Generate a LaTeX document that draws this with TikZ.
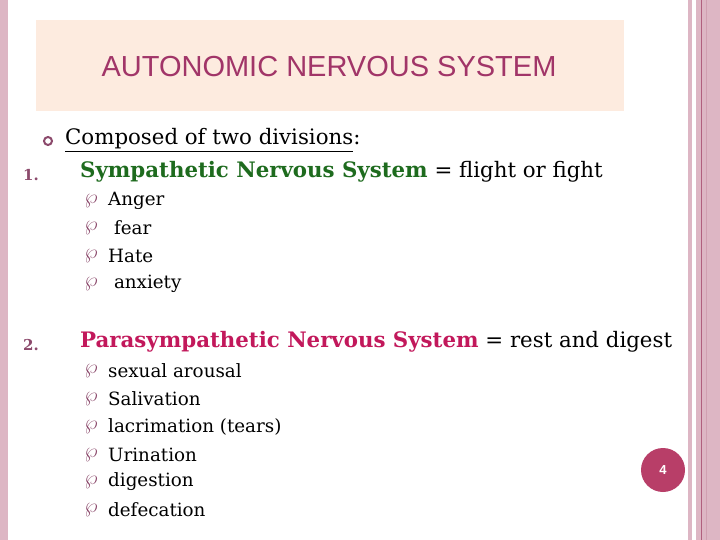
\documentclass[tikz,border=0pt]{standalone}
\usepackage{fontspec}
\setmainfont{DejaVu Serif}
\newfontfamily\titlefont{Liberation Sans}
\begin{document}
\begin{tikzpicture}[x=1pt,y=-1pt,
  txt/.style={anchor=west,font=\fontsize{21.3}{24}\selectfont,inner sep=0pt},
  sub/.style={anchor=west,font=\fontsize{18.3}{21}\selectfont,inner sep=0pt},
  bul/.style={anchor=center,text=bulc,font=\fontsize{20}{22}\selectfont,inner sep=0pt}]
\definecolor{strip}{HTML}{DDB6C4}
\definecolor{stripd}{HTML}{B0607E}
\definecolor{titlebg}{HTML}{FDEBDF}
\definecolor{titlec}{HTML}{A13568}
\definecolor{grn}{HTML}{1E6B1E}
\definecolor{pnk}{HTML}{C2185B}
\definecolor{bulc}{HTML}{8C4A6C}
\definecolor{pagec}{HTML}{B83E68}
\useasboundingbox (0,0) rectangle (720,540);
\fill[white] (0,0) rectangle (720,540);
\fill[strip] (0,0) rectangle (8,540);
\fill[strip] (688,0) rectangle (692,540);
\fill[strip] (696,0) rectangle (720,540);
\draw[stripd,line width=0.8] (701,0) -- (701,540);
\draw[stripd!60,line width=0.8] (706,0) -- (706,540);
\fill[titlebg] (36,20) rectangle (624,111);
\node[font=\titlefont\fontsize{29}{32}\selectfont,text=titlec] (title) at (329,67) {AUTONOMIC NERVOUS SYSTEM};
\node[draw=bulc,line width=2,circle,minimum size=8,inner sep=0] (b0) at (48,141) {};
\node[txt] (comp) at (65,140) {\underline{Composed of two divisions}:};
\node[bul,font=\bfseries\fontsize{15}{17}\selectfont] (n1) at (31,175) {1.};
\node[txt] (symp) at (80,172) {\textcolor{grn}{\bfseries Sympathetic Nervous System} = flight or fight};
\foreach \y/\t [count=\i] in {201/Anger,228/{\ }fear,256/Hate,284/{\ }anxiety}{
  \node[bul] (sb\i) at (91,\y) {$\wp$};
  \node[sub] (st\i) at (108,\y) {\t};
}
\node[bul,font=\bfseries\fontsize{15}{17}\selectfont] (n2) at (31,345) {2.};
\node[txt] (para) at (80,342) {\textcolor{pnk}{\bfseries Parasympathetic Nervous System} = rest and digest};
\foreach \y/\t [count=\i] in {371/sexual arousal,399/Salivation,427/lacrimation (tears),455/Urination,482/digestion,510/defecation}{
  \node[bul] (pb\i) at (91,\y) {$\wp$};
  \node[sub] (pt\i) at (108,\y) {\t};
}
\node[circle,fill=pagec,minimum size=44,inner sep=0,text=white,font=\titlefont\bfseries\fontsize{13}{15}\selectfont] (page) at (663,470) {4};
\end{tikzpicture}
\end{document}
